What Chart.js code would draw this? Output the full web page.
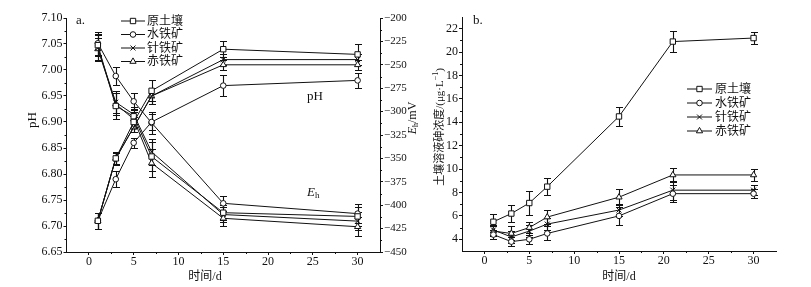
<!DOCTYPE html>
<html>
<head>
<meta charset="utf-8">
<script src="https://cdn.jsdelivr.net/npm/chart.js"></script>
<style>
  html, body { margin: 0; padding: 0; background: #fff; }
  .wrap { position: relative; width: 811px; height: 287px; }
  #phChart { position: absolute; left: 0; top: 0; }
  #asChart { position: absolute; left: 420px; top: 0; }
</style>
</head>
<body>
<div class="wrap">
  <canvas id="phChart" width="420" height="287"></canvas>
  <canvas id="asChart" width="391" height="287"></canvas>
</div>
<script>
// 数据 (图 a: pH 与 Eh)
const days = [1, 3, 5, 7, 15, 30];
const names = ['原土壤', '水铁矿', '针铁矿', '赤铁矿'];

const phRaw = [6.71, 6.83, 6.90, 6.96, 7.04, 7.03];
const phFerrihydrite = [6.71, 6.79, 6.86, 6.90, 6.97, 6.98];
const phGoethite = [6.71, 6.83, 6.89, 6.95, 7.02, 7.02];
const phHematite = [6.71, 6.83, 6.89, 6.95, 7.01, 7.01];

const phErrRaw = [0.015, 0.012, 0.01, 0.02, 0.015, 0.02];
const phErrFerrihydrite = [0.015, 0.015, 0.01, 0.015, 0.02, 0.015];
const phErrGoethite = [0.015, 0.01, 0.01, 0.015, 0.01, 0.01];
const phErrHematite = [0.015, 0.01, 0.01, 0.015, 0.01, 0.01];

const ehRaw = [-229, -294, -305, -348, -408, -412];
const ehFerrihydrite = [-227, -262, -289, -312, -398, -409];
const ehGoethite = [-232, -290, -303, -343, -410, -417];
const ehHematite = [-233, -292, -308, -355, -414, -423];

const ehErrRaw = [12, 14, 8, 15, 8, 10];
const ehErrFerrihydrite = [12, 10, 9, 12, 8, 10];
const ehErrGoethite = [14, 12, 8, 14, 8, 10];
const ehErrHematite = [12, 12, 8, 15, 8, 10];

// 数据 (图 b: 土壤溶液砷浓度)
const days2 = [1, 3, 5, 7, 15, 21, 30];
const asRaw = [5.5, 6.2, 7.1, 8.5, 14.5, 20.9, 21.2];
const asFerrihydrite = [4.4, 3.8, 4.0, 4.5, 6.0, 7.9, 7.9];
const asGoethite = [4.8, 4.2, 4.7, 5.3, 6.5, 8.2, 8.2];
const asHematite = [4.7, 4.5, 5.0, 5.9, 7.6, 9.5, 9.5];

const asErrRaw = [0.7, 0.7, 1.0, 0.7, 0.8, 0.9, 0.5];
const asErrFerrihydrite = [0.4, 0.4, 0.4, 0.6, 0.8, 0.7, 0.4];
const asErrGoethite = [0.4, 0.5, 0.5, 0.5, 0.5, 0.8, 0.4];
const asErrHematite = [0.4, 0.6, 0.5, 0.6, 0.7, 0.6, 0.5];

// 刻度
const xTicks = [0, 5, 10, 15, 20, 25, 30];
const phTicks = [6.65, 6.70, 6.75, 6.80, 6.85, 6.90, 6.95, 7.00, 7.05, 7.10];
const ehTicks = [-450, -425, -400, -375, -350, -325, -300, -275, -250, -225, -200];
const asTicks = [4, 6, 8, 10, 12, 14, 16, 18, 20, 22];

const FONT = "'Liberation Serif', 'Noto Sans CJK SC', serif";
Chart.defaults.font.family = FONT;
Chart.defaults.font.size = 12;
Chart.defaults.color = '#111';

const markers = [
  { pointStyle: 'rect', pointRadius: 3.8 },
  { pointStyle: 'circle', pointRadius: 2.8 },
  { pointStyle: 'crossRot', pointRadius: 3.5 },
  { pointStyle: 'triangle', pointRadius: 3.6 }
];

function series(xs, ys, errs, k, axis) {
  return {
    label: names[k],
    data: xs.map((x, i) => ({ x: x, y: ys[i] })),
    errors: errs,
    yAxisID: axis,
    borderColor: '#111',
    borderWidth: 1,
    pointStyle: markers[k].pointStyle,
    pointRadius: markers[k].pointRadius,
    pointBackgroundColor: '#fff',
    pointBorderColor: '#111',
    pointBorderWidth: 1,
    tension: 0
  };
}

// 误差棒
const errorBars = {
  id: 'errorBars',
  beforeDatasetsDraw(chart) {
    const ctx = chart.ctx;
    ctx.save();
    ctx.strokeStyle = '#111';
    ctx.lineWidth = 1.1;
    chart.data.datasets.forEach(ds => {
      const xs = chart.scales.x, ys = chart.scales[ds.yAxisID];
      ds.data.forEach((p, j) => {
        const e = ds.errors[j];
        const px = Math.round(xs.getPixelForValue(p.x)) + 0.5;
        const top = Math.round(ys.getPixelForValue(p.y + e)) + 0.5;
        const bot = Math.round(ys.getPixelForValue(p.y - e)) + 0.5;
        ctx.beginPath();
        ctx.moveTo(px, top); ctx.lineTo(px, bot);
        ctx.moveTo(px - 3.5, top); ctx.lineTo(px + 3.5, top);
        ctx.moveTo(px - 3.5, bot); ctx.lineTo(px + 3.5, bot);
        ctx.stroke();
      });
    });
    ctx.restore();
  }
};

// 次刻度
function minorTicks(steps) {
  return {
    id: 'minorTicks',
    afterDraw(chart) {
      const ctx = chart.ctx, a = chart.chartArea;
      ctx.save();
      ctx.strokeStyle = '#111';
      ctx.lineWidth = 1;
      ctx.beginPath();
      Object.keys(steps).forEach(id => {
        const s = chart.scales[id], step = steps[id];
        for (let k = Math.ceil(s.min / step); k * step <= s.max + 1e-9; k++) {
          const v = k * step;
          if (Math.abs(k % 2) === 0) continue;
          if (Math.abs(v - s.min) < 1e-9 || Math.abs(v - s.max) < 1e-9) continue;
          const p = Math.round(s.getPixelForValue(v)) + 0.5;
          if (s.isHorizontal()) {
            ctx.moveTo(p, a.bottom); ctx.lineTo(p, a.bottom + 2);
          } else if (s.position === 'left') {
            ctx.moveTo(a.left, p); ctx.lineTo(a.left - 2, p);
          } else {
            ctx.moveTo(a.right, p); ctx.lineTo(a.right + 2, p);
          }
        }
      });
      ctx.stroke();
      ctx.restore();
    }
  };
}

function drawMarker(ctx, style, x, y, r) {
  ctx.beginPath();
  if (style === 'rect') {
    const s = r * Math.SQRT1_2;
    ctx.rect(x - s, y - s, 2 * s, 2 * s);
  } else if (style === 'circle') {
    ctx.arc(x, y, r, 0, Math.PI * 2);
  } else if (style === 'triangle') {
    let rad = 0;
    ctx.moveTo(x + Math.sin(rad) * r, y - Math.cos(rad) * r);
    rad += Math.PI * 2 / 3;
    ctx.lineTo(x + Math.sin(rad) * r, y - Math.cos(rad) * r);
    rad += Math.PI * 2 / 3;
    ctx.lineTo(x + Math.sin(rad) * r, y - Math.cos(rad) * r);
    ctx.closePath();
  } else {
    const s = r * Math.SQRT1_2;
    ctx.moveTo(x - s, y - s); ctx.lineTo(x + s, y + s);
    ctx.moveTo(x - s, y + s); ctx.lineTo(x + s, y - s);
  }
  ctx.fillStyle = '#fff';
  if (style !== 'crossRot') ctx.fill();
  ctx.stroke();
}

// 图例
function legend(x0, x1, tx, rows) {
  return {
    id: 'customLegend',
    afterDraw(chart) {
      const ctx = chart.ctx;
      ctx.save();
      ctx.strokeStyle = '#111';
      ctx.lineWidth = 1;
      rows.forEach((y, k) => {
        ctx.beginPath();
        ctx.moveTo(x0, y); ctx.lineTo(x1, y);
        ctx.stroke();
        drawMarker(ctx, markers[k].pointStyle, (x0 + x1) / 2, y, markers[k].pointRadius);
        ctx.fillStyle = '#111';
        ctx.font = '12px ' + FONT;
        ctx.textAlign = 'left';
        ctx.textBaseline = 'middle';
        ctx.fillText(names[k], tx, y + 0.5);
      });
      ctx.restore();
    }
  };
}

function drawRich(ctx, parts, x, y, rot, align) {
  ctx.save();
  ctx.translate(x, y);
  if (rot) ctx.rotate(rot);
  let w = 0;
  parts.forEach(p => { ctx.font = p.font; w += ctx.measureText(p.t).width; });
  let cx = align === 'left' ? 0 : -w / 2;
  ctx.textBaseline = 'middle';
  ctx.textAlign = 'left';
  ctx.fillStyle = '#111';
  parts.forEach(p => {
    ctx.font = p.font;
    ctx.fillText(p.t, cx, p.dy || 0);
    cx += ctx.measureText(p.t).width;
  });
  ctx.restore();
}

function texts(items) {
  return {
    id: 'texts',
    afterDraw(chart) {
      items.forEach(it => drawRich(chart.ctx, it.parts, it.x, it.y, it.rot, it.align));
    }
  };
}

function axisBase() {
  return {
    grid: { display: true, drawOnChartArea: false, drawTicks: true, tickLength: 3, color: '#111', lineWidth: 1 },
    border: { display: true, color: '#111', width: 1 },
    title: { display: false }
  };
}

function xAxis(h) {
  return Object.assign(axisBase(), {
    type: 'linear', position: 'bottom', min: -2.5, max: 32.5,
    afterBuildTicks: s => { s.ticks = xTicks.map(v => ({ value: v })); },
    afterFit: s => { s.height = h; },
    ticks: { padding: 0, maxRotation: 0, autoSkip: false, callback: v => String(v) }
  });
}

// 图 a
const phData = [phRaw, phFerrihydrite, phGoethite, phHematite];
const phErr = [phErrRaw, phErrFerrihydrite, phErrGoethite, phErrHematite];
const ehData = [ehRaw, ehFerrihydrite, ehGoethite, ehHematite];
const ehErr = [ehErrRaw, ehErrFerrihydrite, ehErrGoethite, ehErrHematite];

const datasetsA = [];
phData.forEach((d, k) => datasetsA.push(series(days, d, phErr[k], k, 'ph')));
ehData.forEach((d, k) => datasetsA.push(series(days, d, ehErr[k], k, 'eh')));

const configA = {
  type: 'line',
  data: { datasets: datasetsA },
  options: {
    responsive: false,
    animation: false,
    layout: { padding: { top: 18, left: 0, right: 0, bottom: 0 } },
    plugins: { legend: { display: false }, tooltip: { enabled: false } },
    scales: {
      x: xAxis(35),
      ph: Object.assign(axisBase(), {
        type: 'linear', position: 'left', min: 6.65, max: 7.10,
        afterBuildTicks: s => { s.ticks = phTicks.map(v => ({ value: v })); },
        afterFit: s => { s.width = 66.5; },
        ticks: { padding: 1, autoSkip: false, callback: v => v.toFixed(2) }
      }),
      eh: Object.assign(axisBase(), {
        type: 'linear', position: 'right', min: -450, max: -200,
        afterBuildTicks: s => { s.ticks = ehTicks.map(v => ({ value: v })); },
        afterFit: s => { s.width = 40; },
        ticks: { padding: 1, autoSkip: false, font: { size: 11 }, callback: v => '\u2212' + Math.abs(v) }
      })
    }
  },
  plugins: [
    errorBars,
    minorTicks({ x: 2.5, ph: 0.025, eh: 12.5 }),
    legend(121, 145, 147, [21, 34.5, 48, 61.5]),
    texts([
      { parts: [{ t: 'a.', font: '13px ' + FONT }], x: 76, y: 21, align: 'left' },
      { parts: [{ t: 'pH', font: '13px ' + FONT }], x: 307, y: 97, align: 'left' },
      { parts: [{ t: 'E', font: 'italic 13px ' + FONT }, { t: 'h', font: '9px ' + FONT, dy: 3 }], x: 307, y: 193, align: 'left' },
      { parts: [{ t: '时间/d', font: '12px ' + FONT }], x: 205, y: 277 },
      { parts: [{ t: 'pH', font: '13px ' + FONT }], x: 33, y: 120, rot: -Math.PI / 2 },
      { parts: [{ t: 'E', font: 'italic 12px ' + FONT }, { t: 'h', font: '8px ' + FONT, dy: 3 }, { t: '/mV', font: '12px ' + FONT }], x: 413, y: 118, rot: -Math.PI / 2 }
    ])
  ]
};

const chartA = new Chart(document.getElementById('phChart'), configA);

// 图 b
const asData = [asRaw, asFerrihydrite, asGoethite, asHematite];
const asErr = [asErrRaw, asErrFerrihydrite, asErrGoethite, asErrHematite];
const datasetsB = asData.map((d, k) => series(days2, d, asErr[k], k, 'y'));

const configB = {
  type: 'line',
  data: { datasets: datasetsB },
  options: {
    responsive: false,
    animation: false,
    layout: { padding: { top: 17, left: 0, right: 35, bottom: 0 } },
    plugins: { legend: { display: false }, tooltip: { enabled: false } },
    scales: {
      x: xAxis(36),
      y: Object.assign(axisBase(), {
        type: 'linear', position: 'left', min: 3, max: 23,
        afterBuildTicks: s => { s.ticks = asTicks.map(v => ({ value: v })); },
        afterFit: s => { s.width = 42; },
        ticks: { padding: 1, autoSkip: false, callback: v => String(v) }
      })
    }
  },
  plugins: [
    errorBars,
    minorTicks({ x: 2.5, y: 1 }),
    legend(267, 292, 295, [89, 103, 117, 131]),
    texts([
      { parts: [{ t: 'b.', font: '13px ' + FONT }], x: 53, y: 21, align: 'left' },
      { parts: [{ t: '时间/d', font: '12px ' + FONT }], x: 199, y: 277 },
      { parts: [{ t: '土壤溶液砷浓度/(μg·L', font: '11px ' + FONT }, { t: '−1', font: '8px ' + FONT, dy: -4 }, { t: ')', font: '11px ' + FONT }], x: 20, y: 127, rot: -Math.PI / 2 }
    ])
  ]
};

const chartB = new Chart(document.getElementById('asChart'), configB);
</script>
</body>
</html>
